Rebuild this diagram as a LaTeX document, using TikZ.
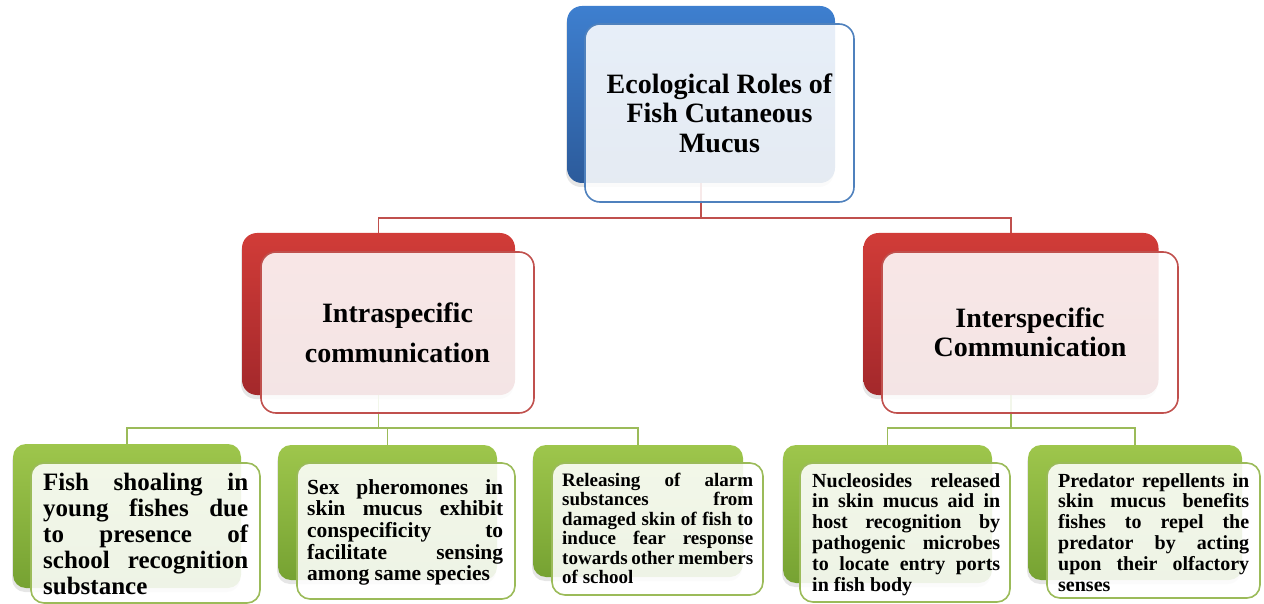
\documentclass[tikz,border=0pt]{standalone}
\usepackage{fontspec}
\setmainfont{Liberation Serif}
\usetikzlibrary{shadows,backgrounds}
\tolerance=10000
\hyphenpenalty=10000
\definecolor{bluetop}{HTML}{3E7FCF}
\definecolor{bluebot}{HTML}{2C5B9B}
\definecolor{blueedge}{HTML}{4F81BD}
\definecolor{redtop}{HTML}{D13C38}
\definecolor{redbot}{HTML}{A3282B}
\definecolor{rededge}{HTML}{C0504D}
\definecolor{greentop}{HTML}{9EC64C}
\definecolor{greenbot}{HTML}{76A232}
\definecolor{greenedge}{HTML}{9BBB59}
\tikzset{
  backbox/.style={rectangle, rounded corners=15pt, inner sep=0pt,
    drop shadow={shadow xshift=-1pt, shadow yshift=-4pt, opacity=0.2}},
  bluebox/.style={backbox, top color=bluetop, bottom color=bluebot},
  redbox/.style={backbox, top color=redtop, bottom color=redbot},
  greenbox/.style={backbox, rounded corners=13pt, top color=greentop, bottom color=greenbot},
  frontbox/.style={rectangle, rounded corners=15pt, draw, line width=1.6pt,
    fill=white, fill opacity=0.88, text opacity=1, inner sep=0pt, align=center},
  gfront/.style={frontbox, rounded corners=13pt, draw=greenedge},
  gtext/.style={inner sep=0pt, anchor=north west, align=justify},
  redline/.style={draw=rededge, line width=1.8pt},
  greenline/.style={draw=greenedge, line width=1.8pt},
}
\begin{document}
\begin{tikzpicture}[x=1pt,y=-1pt]
\useasboundingbox (0,0) rectangle (1264,604);
% back boxes
\node[bluebox, minimum width=268pt, minimum height=177pt] (tb) at (701,94.5) {};
\node[redbox, minimum width=273pt, minimum height=162pt] (lb) at (378.5,314) {};
\node[redbox, minimum width=295pt, minimum height=162pt] (rb) at (1011,314) {};
\node[greenbox, minimum width=228pt, minimum height=144pt] (g1b) at (127,516) {};
\node[greenbox, minimum width=219pt, minimum height=135pt] (g2b) at (387.5,512.5) {};
\node[greenbox, minimum width=210pt, minimum height=132pt] (g3b) at (638,511) {};
\node[greenbox, minimum width=209pt, minimum height=138pt] (g4b) at (887.5,514) {};
\node[greenbox, minimum width=214pt, minimum height=135pt] (g5b) at (1135,512.5) {};
% front boxes
\node[frontbox, draw=blueedge, minimum width=269pt, minimum height=178pt,
  font=\fontsize{28}{29.5}\selectfont\bfseries] (tf) at (719.5,113)
  {Ecological Roles of\\Fish Cutaneous\\Mucus};
\node[frontbox, draw=rededge, minimum width=273pt, minimum height=161pt,
  font=\fontsize{28}{29}\selectfont\bfseries] (lf) at (397.5,332.5)
  {Intraspecific\\[11pt]communication};
\node[frontbox, draw=rededge, minimum width=296pt, minimum height=161pt,
  font=\fontsize{28}{29}\selectfont\bfseries] (rf) at (1030,332.5)
  {Interspecific\\Communication};
\node[gfront, minimum width=229pt, minimum height=140pt] (g1f) at (145.5,533) {};
\node[gfront, minimum width=218pt, minimum height=136pt] (g2f) at (406,531) {};
\node[gfront, minimum width=211pt, minimum height=132pt] (g3f) at (657.5,529) {};
\node[gfront, minimum width=210pt, minimum height=139pt] (g4f) at (905,532.5) {};
\node[gfront, minimum width=213pt, minimum height=135pt] (g5f) at (1153.5,530.5) {};
% green texts
\node[gtext, text width=205pt, font=\fontsize{25}{26}\selectfont\bfseries] (g1t) at (43,473)
  {Fish shoaling in\linebreak young fishes due\linebreak to presence of\linebreak school recognition\linebreak substance};
\node[gtext, text width=196pt, font=\fontsize{21.5}{21.7}\selectfont\bfseries] (g2t) at (307,479)
  {Sex pheromones in\linebreak skin mucus exhibit\linebreak conspecificity to\linebreak facilitate sensing\linebreak among same species};
\node[gtext, text width=191pt, font=\fontsize{19}{19.4}\selectfont\bfseries] (g3t) at (562,473)
  {Releasing of alarm\linebreak substances from\linebreak damaged skin of fish to\linebreak induce fear response\linebreak towards other members\linebreak of school};
\node[gtext, text width=188pt, font=\fontsize{20}{20.8}\selectfont\bfseries] (g4t) at (812,473)
  {Nucleosides released\linebreak in skin mucus aid in\linebreak host recognition by\linebreak pathogenic microbes\linebreak to locate entry ports\linebreak in fish body};
\node[gtext, text width=191pt, font=\fontsize{20}{20.8}\selectfont\bfseries] (g5t) at (1058,473)
  {Predator repellents in\linebreak skin mucus benefits\linebreak fishes to repel the\linebreak predator by acting\linebreak upon their olfactory\linebreak senses};
% connectors
\begin{scope}[on background layer]
  \draw[redline] (tb.south) -- ++(0,35) -| (lb.north);
  \draw[redline] (tb.south) ++(0,35) -| (rb.north);
  \draw[greenline] (lb.south) -- ++(0,33) -| (g1b.north);
  \draw[greenline] (lb.south) ++(0,33) -| (g2b.north);
  \draw[greenline] (lb.south) ++(0,33) -| (g3b.north);
  \draw[greenline] (rb.south) -- ++(0,33) -| (g4b.north);
  \draw[greenline] (rb.south) ++(0,33) -| (g5b.north);
\end{scope}
\end{tikzpicture}
\end{document}
